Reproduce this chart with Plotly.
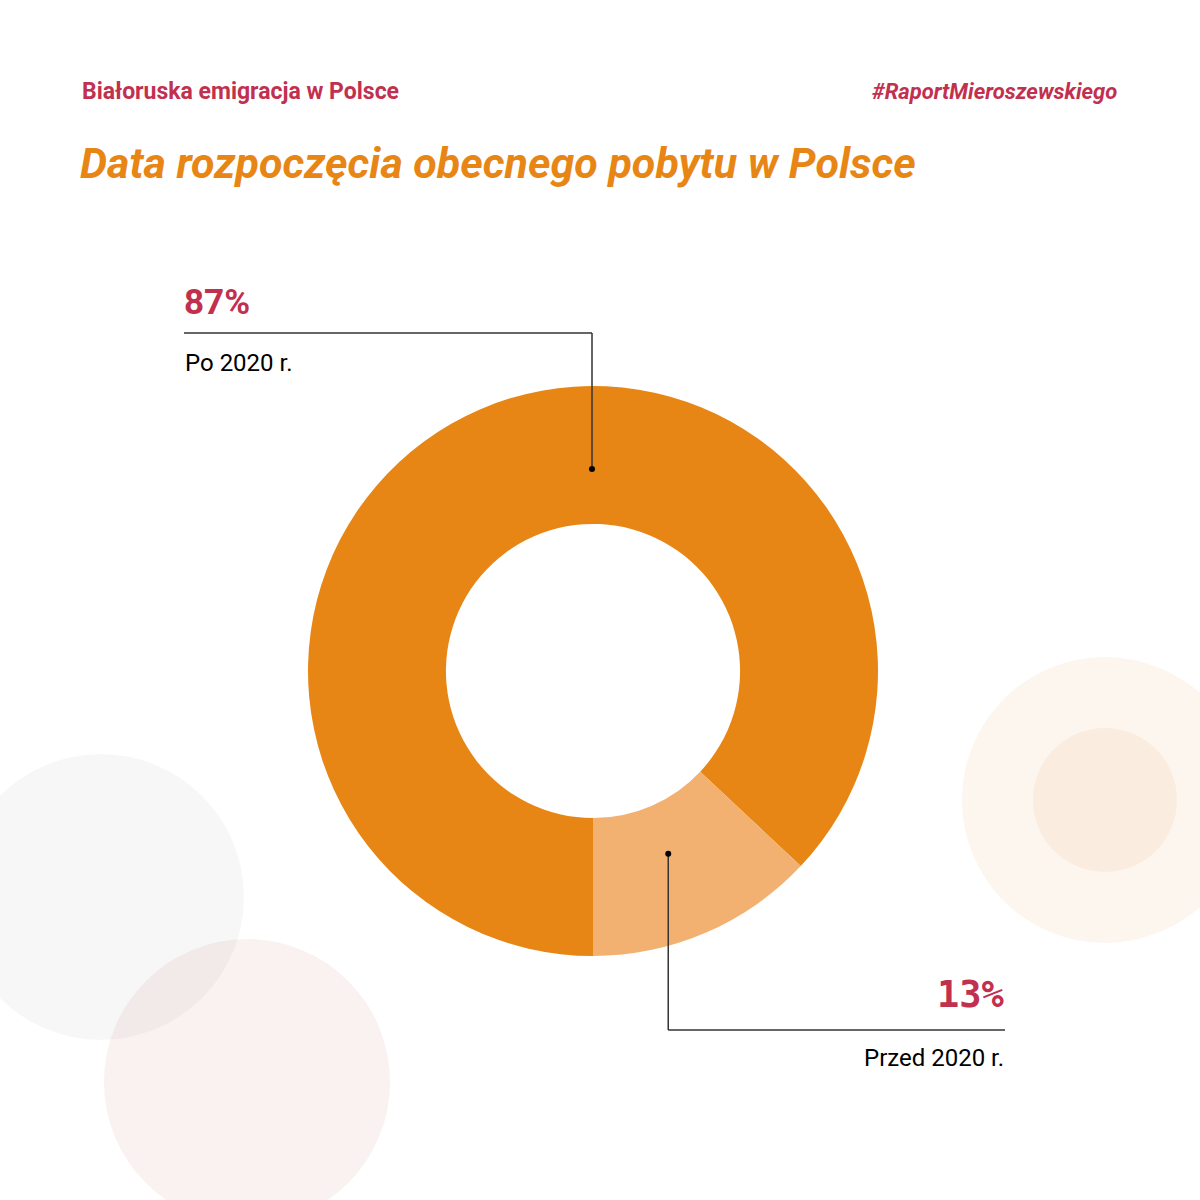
import math
import plotly.graph_objects as go

# dane
labels = ["Po 2020 r.", "Przed 2020 r."]
values = [87, 13]
pct_text = ["87%", "13%"]
colors = ["#E88615", "#F2B170"]

CRIMSON = "#C2304F"
ORANGE = "#E88615"
W = H = 1200

# geometria donuta (px)
cx, cy, R = 593, 671, 285
hole = 0.516

fig = go.Figure()

fig.add_trace(go.Pie(
    labels=labels, values=values, hole=hole, sort=False,
    direction="clockwise", rotation=180,
    marker=dict(colors=colors, line=dict(width=0)),
    textinfo="none", hoverinfo="label+percent", showlegend=False,
    domain=dict(x=[(cx - R) / W, (cx + R) / W], y=[1 - (cy + R) / H, 1 - (cy - R) / H]),
))

# kat srodka malego wycinka -> punkt odnosnika
total = sum(values)
start = 180 + 360 * values[0] / total
mid2 = math.radians(start + 180 * values[1] / total)
r_dot = 197
dot2 = (cx + r_dot * math.sin(mid2) - 3, cy - r_dot * math.cos(mid2) + 2)
dot1 = (cx - 1, cy - 202)

# pusty slad, zeby powstaly osie x/y
fig.add_trace(go.Scatter(x=[0, W], y=[0, H], mode="markers", marker=dict(opacity=0),
                         hoverinfo="skip", showlegend=False))

line_col = "#333333"
lw = 1.5
segs = [
    (184, 333, dot1[0], 333), (dot1[0], 333, dot1[0], dot1[1]),
    (dot2[0], dot2[1], dot2[0], 1030), (dot2[0], 1030, 1005, 1030),
]
for x0, y0, x1, y1 in segs:
    fig.add_shape(type="line", xref="x", yref="y", x0=x0, y0=y0, x1=x1, y1=y1,
                  line=dict(color=line_col, width=lw), layer="above")
for dx, dy in (dot1, dot2):
    fig.add_shape(type="circle", xref="x", yref="y", x0=dx - 3, x1=dx + 3, y0=dy - 3, y1=dy + 3,
                  fillcolor="black", line=dict(width=0), layer="above")

# kola w tle
circles = [
    (101, 897, 143, "rgba(0,0,0,0.03)"),
    (247, 1082, 143, "rgba(190,60,50,0.07)"),
    (1105, 800, 143, "#FDF6EF"),
    (1105, 800, 72, "#FAEDDF"),
]
for x0, y0, r, c in circles:
    fig.add_shape(type="circle", xref="x", yref="y", x0=x0 - r, x1=x0 + r, y0=y0 - r, y1=y0 + r,
                  fillcolor=c, line=dict(width=0), layer="below")

font = "Roboto"
ann = [
    dict(x=80, y=91, text="<b>Białoruska emigracja w Polsce</b>", xanchor="left",
         font=dict(size=23, color=CRIMSON, family=font)),
    dict(x=1119, y=91, text="<b><i>#RaportMieroszewskiego</i></b>", xanchor="right",
         font=dict(size=22, color=CRIMSON, family=font)),
    dict(x=78, y=163, text="<b><i>Data rozpoczęcia obecnego pobytu w Polsce</i></b>", xanchor="left",
         font=dict(size=43, color=ORANGE, family=font)),
    dict(x=182, y=302, text="<b>" + pct_text[0] + "</b>", xanchor="left",
         font=dict(size=35, color=CRIMSON, family=font)),
    dict(x=183, y=363, text=labels[0], xanchor="left",
         font=dict(size=24, color="black", family=font)),
    dict(x=1007, y=994, text="<b>" + pct_text[1] + "</b>", xanchor="right",
         font=dict(size=37, color=CRIMSON, family="DejaVu Sans Mono, monospace")),
    dict(x=1006, y=1058, text=labels[1], xanchor="right",
         font=dict(size=24, color="black", family=font)),
]
for a in ann:
    fig.add_annotation(xref="x", yref="y", yanchor="middle", showarrow=False, **a)

fig.update_xaxes(range=[0, W], visible=False, fixedrange=True)
fig.update_yaxes(range=[H, 0], visible=False, fixedrange=True)
fig.update_layout(
    width=W, height=H, margin=dict(l=0, r=0, t=0, b=0),
    paper_bgcolor="white", plot_bgcolor="rgba(0,0,0,0)",
)

fig.write_html("out.html", config={"displayModeBar": False},
               post_script="document.body.style.margin='0';")
